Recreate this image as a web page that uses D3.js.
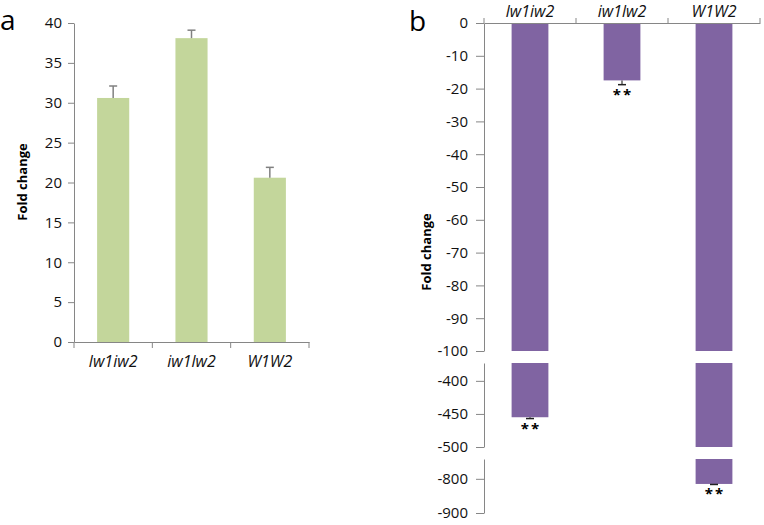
<!DOCTYPE html>
<html><head><meta charset="utf-8">
<script src="https://cdn.jsdelivr.net/npm/d3@7"></script>
<style>body{margin:0;background:#fff}svg{display:block}text{font-family:"Open Sans",sans-serif}</style>
</head><body><svg id="c" width="764" height="525"></svg>
<script>
// ---- data ----
const categories = ["lw1iw2", "iw1lw2", "W1W2"];
const valuesA = [30.6, 38.1, 20.6];
const errorsA = [1.5, 1.0, 1.3];
const ticksA = [0, 5, 10, 15, 20, 25, 30, 35, 40];
const valuesB = [-455, -17.5, -815];
const errorsB = [2, 1.3, 1.5];
const marksB = ["**", "**", "**"];
const segDomainsB = [[0, -100], [-373, -500], [-742, -900]];
const segTicksB = [[0, -10, -20, -30, -40, -50, -60, -70, -80, -90, -100], [-400, -450, -500], [-800, -900]];

const svg = d3.select("#c");
const axisCol = "#868686";
const green = "#c3d69b", purple = "#8064a2";
const fmt = d => String(d);

// ---- panel a ----
const xA = d3.scaleBand().domain(categories).range([74, 309]).paddingInner(0.59).paddingOuter(0.295);
const yA = d3.scaleLinear().domain([0, 40]).range([342, 23]);
const gA = svg.append("g");
gA.selectAll("rect").data(categories).join("rect")
  .attr("x", d => xA(d)).attr("width", xA.bandwidth())
  .attr("y", (d, i) => yA(valuesA[i])).attr("height", (d, i) => yA(0) - yA(valuesA[i]))
  .attr("fill", green);
const errA = gA.selectAll("g.err").data(categories).join("g").attr("class", "err");
errA.append("line").attr("x1", d => xA(d) + xA.bandwidth() / 2).attr("x2", d => xA(d) + xA.bandwidth() / 2)
  .attr("y1", (d, i) => yA(valuesA[i])).attr("y2", (d, i) => yA(valuesA[i] + errorsA[i]))
  .attr("stroke", "#808080").attr("stroke-width", 1.5);
errA.append("line").attr("x1", d => xA(d) + xA.bandwidth() / 2 - 4).attr("x2", d => xA(d) + xA.bandwidth() / 2 + 4)
  .attr("y1", (d, i) => yA(valuesA[i] + errorsA[i])).attr("y2", (d, i) => yA(valuesA[i] + errorsA[i]))
  .attr("stroke", "#808080").attr("stroke-width", 1.5);

const yAxA = gA.append("g").attr("transform", "translate(74,0)")
  .call(d3.axisLeft(yA).tickValues(ticksA).tickFormat(fmt).tickSize(6).tickPadding(6).tickSizeOuter(0));
const xAxA = gA.append("g").attr("transform", "translate(0,342)")
  .call(d3.axisBottom(xA).tickSize(0).tickPadding(14));
const boundsA = [0, 1, 2, 3].map(i => 74 + i * (309 - 74) / 3);
gA.selectAll("line.bt").data(boundsA).join("line").attr("class", "bt")
  .attr("x1", d => d).attr("x2", d => d).attr("y1", 342).attr("y2", 348).attr("stroke", axisCol);
[yAxA, xAxA].forEach(a => {
  a.selectAll("path,line").attr("stroke", axisCol);
  a.selectAll("text").attr("fill", "#111").style("font-size", "15px");
});
xAxA.selectAll("text").style("font-style", "italic").style("font-size", "16px");
gA.append("text").attr("transform", "translate(27,182) rotate(-90)").attr("text-anchor", "middle")
  .style("font-weight", "bold").style("font-size", "13px").text("Fold change");
svg.append("text").attr("x", 0).attr("y", 30).style("font-size", "28px").text("a");

// ---- panel b ----
const xB = d3.scaleBand().domain(categories).range([484, 760]).paddingInner(0.6).paddingOuter(0.3);
const segRanges = [[23, 351], [363, 447], [459, 513]];
const ySegs = segDomainsB.map((d, i) => d3.scaleLinear().domain(d).range(segRanges[i]));
const gB = svg.append("g");
const pieces = [];
valuesB.forEach((v, i) => {
  segDomainsB.forEach((dom, s) => {
    if (v < dom[0]) {
      const lo = Math.max(v, dom[1]);
      pieces.push({ cat: categories[i], s, top: dom[0], bot: lo });
    }
  });
});
gB.selectAll("rect").data(pieces).join("rect")
  .attr("x", d => xB(d.cat)).attr("width", xB.bandwidth())
  .attr("y", d => ySegs[d.s](d.top)).attr("height", d => ySegs[d.s](d.bot) - ySegs[d.s](d.top))
  .attr("fill", purple);
function segOf(v) { return segDomainsB.findIndex(d => v <= d[0] && v >= d[1]); }
categories.forEach((c, i) => {
  const v = valuesB[i], e = v - errorsB[i];
  const sc = ySegs[segOf(v)];
  const cx = xB(c) + xB.bandwidth() / 2;
  gB.append("line").attr("x1", cx).attr("x2", cx).attr("y1", sc(v)).attr("y2", sc(e)).attr("stroke", "#333").attr("stroke-width", 1.2);
  gB.append("line").attr("x1", cx - 4).attr("x2", cx + 4).attr("y1", sc(e)).attr("y2", sc(e)).attr("stroke", "#222").attr("stroke-width", 1.5);
  gB.append("text").attr("x", cx + 1).attr("y", sc(e) + 15).attr("text-anchor", "middle")
    .style("font-weight", "bold").style("font-size", "15px").style("letter-spacing", "2px").text(marksB[i]);
});
ySegs.forEach((sc, s) => {
  const ax = gB.append("g").attr("transform", "translate(484,0)")
    .call(d3.axisLeft(sc).tickValues(segTicksB[s]).tickFormat(fmt).tickSize(8).tickPadding(8).tickSizeOuter(0));
  ax.selectAll("path,line").attr("stroke", axisCol);
  ax.selectAll("text").attr("fill", "#111").style("font-size", "15px");
});
const xAxB = gB.append("g").attr("transform", "translate(0,23)")
  .call(d3.axisTop(xB).tickSize(0).tickPadding(6).tickSizeOuter(0));
xAxB.select("path").attr("stroke", axisCol);
xAxB.selectAll("text").attr("fill", "#111").style("font-style", "italic").style("font-size", "16px");
const boundsB = [0, 1, 2, 3].map(i => 484 + i * (760 - 484) / 3);
gB.selectAll("line.bt").data(boundsB).join("line").attr("class", "bt")
  .attr("x1", d => d).attr("x2", d => d).attr("y1", 23).attr("y2", 18).attr("stroke", axisCol);
gB.append("text").attr("transform", "translate(431,252) rotate(-90)").attr("text-anchor", "middle")
  .style("font-weight", "bold").style("font-size", "13px").text("Fold change");
svg.append("text").attr("x", 409).attr("y", 31).style("font-size", "28px").text("b");
</script></body></html>
